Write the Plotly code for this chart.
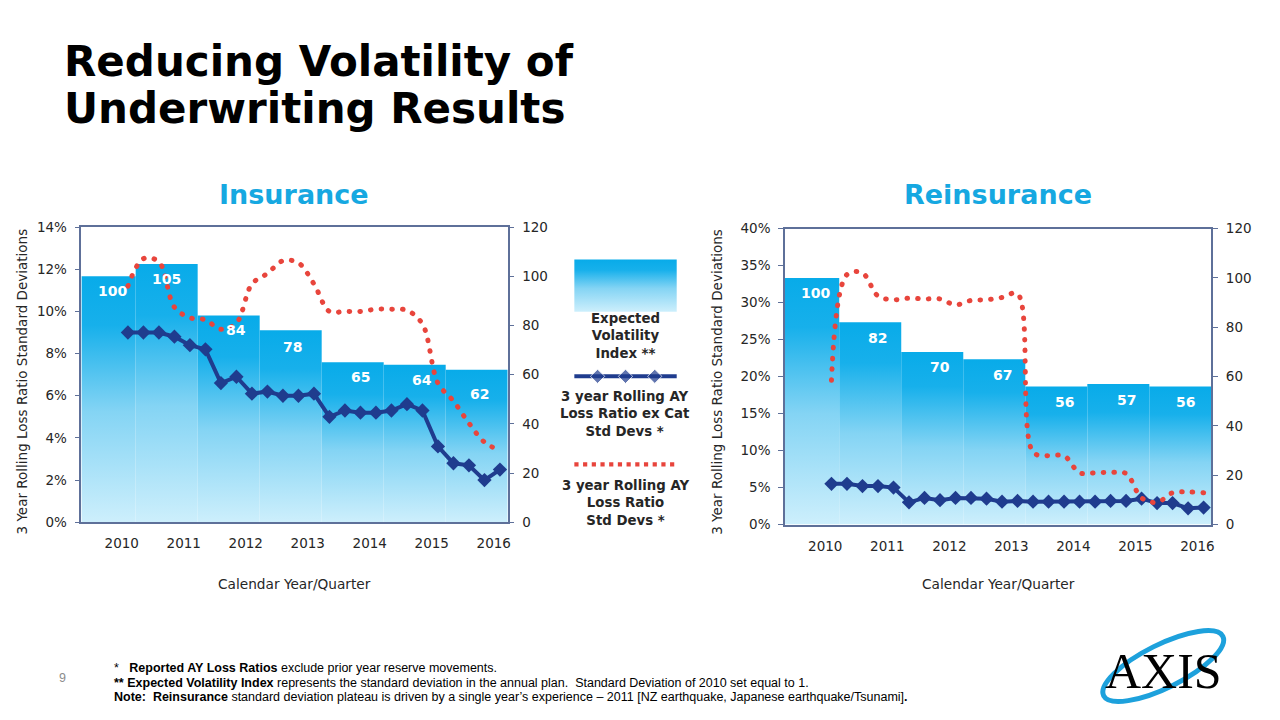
import math
import plotly.graph_objects as go

# ---------------- data ----------------
YEARS = ["2010", "2011", "2012", "2013", "2014", "2015", "2016"]

# Insurance
INS_INDEX = [100, 105, 84, 78, 65, 64, 62]                      # Expected Volatility Index (right axis)
INS_EX_CAT = [9.0, 9.0, 9.0, 8.8, 8.4, 8.2, 6.6, 6.9, 6.1, 6.2, 6.0, 6.0, 6.1,
              5.0, 5.3, 5.2, 5.2, 5.3, 5.6, 5.3, 3.6, 2.8, 2.7, 2.0, 2.5]   # % (left axis)
INS_TOTAL = [11.2, 12.5, 12.35, 10.2, 9.7, 9.6, 9.15, 9.45, 11.3, 11.8, 12.4, 12.3, 11.3,
             10.0, 10.0, 10.0, 10.1, 10.1, 10.05, 9.4, 6.6, 5.75, 4.7, 3.8, 3.4]

# Reinsurance
RE_INDEX = [100, 82, 70, 67, 56, 57, 56]
RE_EX_CAT = [5.5, 5.5, 5.2, 5.2, 5.0, 3.0, 3.6, 3.3, 3.6, 3.6, 3.5, 3.1, 3.2,
             3.1, 3.1, 3.1, 3.1, 3.1, 3.2, 3.2, 3.5, 2.9, 2.9, 2.2, 2.3]
RE_TOTAL = [19.5, 33.8, 34.0, 30.9, 30.4, 30.6, 30.5, 30.5, 29.7, 30.3, 30.4, 30.7, 31.2,
            9.8, 9.3, 9.3, 7.0, 7.0, 7.05, 6.9, 3.6, 3.0, 4.3, 4.4, 4.3]

INS_PCT_MAX, RE_PCT_MAX, INDEX_MAX = 14, 40, 120

# ---------------- styles / layout helpers ----------------
W, H = 1280, 720
FONT = "DejaVu Sans, Verdana, sans-serif"
NAVY = "#1F3C8E"
RED = "#E8453C"          # rgb(232, 69, 60) -> round dotted chart lines
RED_LEGEND = "#E8443C"   # legend sample keeps square dots
CYAN = "#16A8E1"
AXIS_COL = "#5E7099"
TXT = "#262626"
BAR_SCALE = [[0, "#CDEFFC"], [0.45, "#84D4F4"], [0.8, "#17B0EB"], [1, "#08ABE9"]]
X_MIN, X_MAX = -3, 24.5   # quarter index range of each chart
DOT_DASH = "0.6px,10.1px"  # rendered as round dots (round line caps set below)


def px(x):
    return x / W


def py(y):
    return 1 - y / H


fig = go.Figure()


def add_panel(index_vals, ex_cat, total, xa, ya_bar, ya_pct):
    # gradient bars, one per year, each spanning four quarters
    for k, v in enumerate(index_vals):
        x0 = max(4 * k - 3.5, X_MIN)
        x1 = 4 * k + 0.5
        fig.add_trace(go.Scatter(
            x=[x0, x0, x1, x1, x0], y=[0, v, v, 0, 0],
            mode="lines", fill="toself", line=dict(width=0),
            fillgradient=dict(type="vertical", colorscale=BAR_SCALE),
            xaxis=xa, yaxis=ya_bar, showlegend=False, hoverinfo="skip"))
    q = list(range(len(ex_cat)))
    fig.add_trace(go.Scatter(
        x=q, y=ex_cat, mode="lines+markers",
        line=dict(color=NAVY, width=4),
        marker=dict(symbol="diamond", size=11, color=NAVY),
        xaxis=xa, yaxis=ya_pct, showlegend=False))
    fig.add_trace(go.Scatter(
        x=list(range(len(total))), y=total, mode="lines",
        line=dict(color=RED, width=5, dash=DOT_DASH, shape="spline", smoothing=1.0),
        xaxis=xa, yaxis=ya_pct, showlegend=False))


add_panel(INS_INDEX, INS_EX_CAT, INS_TOTAL, "x", "y", "y2")
add_panel(RE_INDEX, RE_EX_CAT, RE_TOTAL, "x2", "y3", "y4")

# ---------------- legend column (decorative samples) ----------------
fig.add_trace(go.Scatter(
    x=[575.7, 575.7, 678.3, 678.3, 575.7], y=[720 - 310.7, 720 - 257.3, 720 - 257.3, 720 - 310.7, 720 - 310.7],
    mode="lines", fill="toself", line=dict(width=0),
    fillgradient=dict(type="vertical", colorscale=BAR_SCALE),
    xaxis="x3", yaxis="y5", showlegend=False, hoverinfo="skip"))
fig.add_trace(go.Scatter(
    x=[575.7, 599, 627, 656.3, 678.3], y=[720 - 376.7] * 5, mode="lines+markers",
    line=dict(color=NAVY, width=4),
    marker=dict(symbol="diamond", size=[0, 11, 11, 11, 0], color=NAVY),
    xaxis="x3", yaxis="y5", showlegend=False, hoverinfo="skip"))
fig.add_trace(go.Scatter(
    x=[575.7, 679], y=[720 - 466.7] * 2, mode="lines",
    line=dict(color=RED_LEGEND, width=4.2, dash="4.2px,4.5px"),
    xaxis="x3", yaxis="y5", showlegend=False, hoverinfo="skip"))

# ---------------- axes ----------------
tickfont = dict(family=FONT, size=13.5, color=TXT)
common_x = dict(range=[X_MIN, X_MAX], showline=True, mirror=True, linecolor=AXIS_COL, linewidth=1.5,
                tickvals=[4 * k - 0.4 for k in range(len(YEARS))], ticktext=YEARS, ticks="",
                showgrid=False, zeroline=False, tickfont=tickfont, ticklabelstandoff=8)
common_y = dict(showline=True, linecolor=AXIS_COL, linewidth=1.5, ticks="outside", ticklen=5,
                tickcolor=AXIS_COL, showgrid=False, zeroline=False, tickfont=tickfont,
                ticklabelstandoff=5)

fig.update_layout(
    width=W, height=H, margin=dict(l=0, r=0, t=0, b=0),
    paper_bgcolor="white", plot_bgcolor="rgba(0,0,0,0)", showlegend=False,
    font=dict(family=FONT, color=TXT),
    xaxis=dict(domain=[px(81.6), px(508.9)], anchor="y", **common_x),
    yaxis=dict(domain=[py(526), py(224)], range=[0, INDEX_MAX], dtick=20, side="right", anchor="x", **common_y),
    yaxis2=dict(overlaying="y", range=[0, INS_PCT_MAX], dtick=2, ticksuffix="%", side="left", anchor="x", **common_y),
    xaxis2=dict(domain=[px(786.8), px(1214.2)], anchor="y3", **common_x),
    yaxis3=dict(domain=[py(528.3), py(225.7)], range=[0, INDEX_MAX], dtick=20, side="right", anchor="x2", **common_y),
    yaxis4=dict(overlaying="y3", range=[0, RE_PCT_MAX], dtick=5, ticksuffix="%", side="left", anchor="x2", **common_y),
    xaxis3=dict(domain=[px(560), px(700)], range=[560, 700], visible=False, anchor="y5"),
    yaxis5=dict(domain=[py(530), py(250)], range=[720 - 530, 720 - 250], visible=False, anchor="x3"),
)

ann = []

# bar value labels
INS_LABEL_X = [-1, 2.5, 7, 10.6, 15, 19, 22.7]
INS_LABEL_SHIFT = [-15, -15, -14, -17, -15, -15, -24]
RE_LABEL_X = [-1, 3, 7, 11, 15, 19, 22.85]
for vals, xs, shifts, xr, yr in [(INS_INDEX, INS_LABEL_X, INS_LABEL_SHIFT, "x", "y"),
                                 (RE_INDEX, RE_LABEL_X, [-15.5] * 7, "x2", "y3")]:
    for v, xv, s in zip(vals, xs, shifts):
        ann.append(dict(x=xv, y=v, xref=xr, yref=yr, yshift=s, text=f"<b>{v}</b>", showarrow=False,
                        font=dict(family=FONT, size=14, color="white"), xanchor="center", yanchor="middle"))

# title
ann.append(dict(x=px(62), y=py(55), xref="paper", yref="paper", text="<b>Reducing Volatility of</b>",
                showarrow=False, xanchor="left", yanchor="middle", font=dict(family=FONT, size=42, color="black")))
ann.append(dict(x=px(62), y=py(103), xref="paper", yref="paper", text="<b>Underwriting Results</b>",
                showarrow=False, xanchor="left", yanchor="middle", font=dict(family=FONT, size=42, color="black")))

# panel titles
for t, xc in [("Insurance", 295), ("Reinsurance", 1000.5)]:
    ann.append(dict(x=px(xc), y=py(191), xref="paper", yref="paper", text=f"<b>{t}</b>", showarrow=False,
                    xanchor="center", yanchor="middle", font=dict(family=FONT, size=27, color=CYAN)))

# axis titles
for xc, yc in [(22, 382), (718, 382)]:
    ann.append(dict(x=px(xc), y=py(yc), xref="paper", yref="paper",
                    text="3 Year Rolling Loss Ratio Standard Deviations", textangle=-90, showarrow=False,
                    xanchor="center", yanchor="middle", font=dict(family=FONT, size=13.5, color=TXT)))
for xc in [295, 1000.5]:
    ann.append(dict(x=px(xc), y=py(589), xref="paper", yref="paper", text="Calendar Year/Quarter",
                    showarrow=False, xanchor="center", yanchor="middle", font=dict(family=FONT, size=13.7, color=TXT)))

# legend texts
for txt, yc in [("Expected<br>Volatility<br>Index **", 335.2),
                ("3 year Rolling AY<br>Loss Ratio ex Cat<br>Std Devs *", 415),
                ("3 year Rolling AY<br>Loss Ratio<br>Std Devs *", 506.5)]:
    ann.append(dict(x=px(626.8), y=py(yc), xref="paper", yref="paper", text=f"<b>{txt}</b>", showarrow=False,
                    xanchor="center", yanchor="middle", align="center",
                    font=dict(family=FONT, size=13.3, color=TXT)))

# footer
ann.append(dict(x=px(63), y=py(685), xref="paper", yref="paper", text="9", showarrow=False,
                xanchor="center", yanchor="middle", font=dict(family="Liberation Sans, Arial", size=12.5, color="#8C8C8C")))
FOOT = [
    "*   <b>Reported AY Loss Ratios</b> exclude prior year reserve movements.",
    "<b>** Expected Volatility Index</b> represents the standard deviation in the annual plan.  Standard Deviation of 2010 set equal to 1.",
    "<b>Note:  Reinsurance</b> standard deviation plateau is driven by a single year\u2019s experience \u2013 2011 [NZ earthquake, Japanese earthquake/Tsunami]<b>.</b>",
]
for i, line in enumerate(FOOT):
    ann.append(dict(x=px(112), y=py(675 + 15 * i), xref="paper", yref="paper", text=line, showarrow=False,
                    xanchor="left", yanchor="middle", font=dict(family="Liberation Sans, Arial", size=12.5, color="black")))

# logo text
ann.append(dict(x=px(1166), y=py(678), xref="paper", yref="paper", text="AXIS", showarrow=False,
                xanchor="center", yanchor="middle", font=dict(family="Liberation Serif, DejaVu Serif", size=50, color="black")))

fig.update_layout(annotations=ann)

# logo ellipse (rotated) as a bezier path
cx, cy, a, b, th = 1166, 673, 67, 22, math.radians(27)
u = (math.cos(th), -math.sin(th))
v = (math.sin(th), math.cos(th))
kap = 0.5523


def P(s, t):
    X = cx + s * u[0] + t * v[0]
    Y = cy + s * u[1] + t * v[1]
    return f"{px(X):.5f},{py(Y):.5f}"


path = (f"M {P(a, 0)} C {P(a, kap * b)} {P(kap * a, b)} {P(0, b)} "
        f"C {P(-kap * a, b)} {P(-a, kap * b)} {P(-a, 0)} "
        f"C {P(-a, -kap * b)} {P(-kap * a, -b)} {P(0, -b)} "
        f"C {P(kap * a, -b)} {P(a, -kap * b)} {P(a, 0)} Z")
fig.add_shape(type="path", path=path, xref="paper", yref="paper", line=dict(color="#1DA1DC", width=5), layer="below")

POST = (
    "document.body.style.margin='0px';document.body.style.overflow='hidden';"
    "var s=document.createElement('style');"
    "s.textContent='path.js-line[style*=\"232, 69, 60\"]{stroke-linecap:round !important;}';"
    "document.head.appendChild(s);"
)
fig.write_html("out.html", config={"displayModeBar": False}, post_script=POST)
